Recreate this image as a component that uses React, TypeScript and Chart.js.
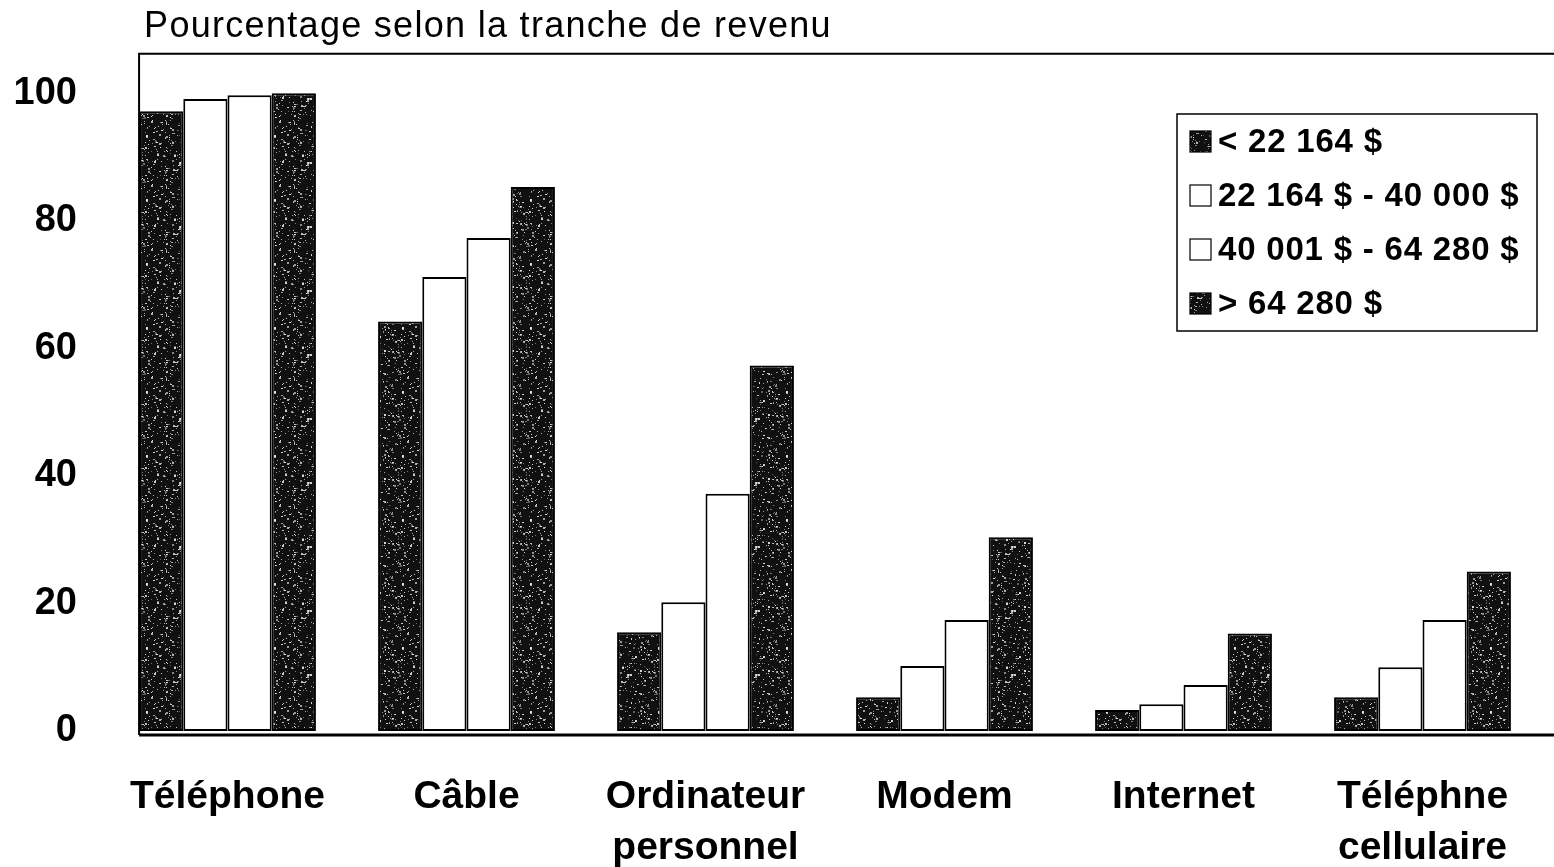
import React, { useEffect, useRef } from "react";
import { Chart, registerables } from "chart.js";

Chart.register(...registerables);

const FONT = '"Liberation Sans", Arial, Helvetica, sans-serif';

const titleText = "Pourcentage selon la tranche de revenu";
const categories: string[][] = [
  ["Téléphone"],
  ["Câble"],
  ["Ordinateur", "personnel"],
  ["Modem"],
  ["Internet"],
  ["Téléphne", "cellulaire"],
];
const seriesLabels = [
  "< 22 164 $",
  "22 164 $ - 40 000 $",
  "40 001 $ - 64 280 $",
  "> 64 280 $",
];
const lowIncome = [97.2, 64.2, 15.5, 5.3, 3.3, 5.3];
const lowerMiddle = [99.1, 71.2, 20.2, 10.2, 4.2, 10.0];
const upperMiddle = [99.7, 77.3, 37.2, 17.4, 7.2, 17.4];
const highIncome = [100, 85.3, 57.3, 30.4, 15.3, 25.0];
const yTicks = [0, 20, 40, 60, 80, 100];

function makeSpeckle(): CanvasPattern | string {
  const c = document.createElement("canvas");
  c.width = 64;
  c.height = 64;
  const g = c.getContext("2d");
  if (!g) return "#222";
  g.fillStyle = "#101010";
  g.fillRect(0, 0, 64, 64);
  let s = 987654;
  const next = () => {
    s = (s * 1103515245 + 12345) & 0x7fffffff;
    return s / 0x7fffffff;
  };
  for (let i = 0; i < 300; i++) {
    const x = Math.floor(next() * 64);
    const y = Math.floor(next() * 64);
    const a = 0.35 + next() * 0.6;
    g.fillStyle = `rgba(235,235,235,${a.toFixed(2)})`;
    const r = next();
    g.fillRect(x, y, r < 0.3 ? 2 : 1, r < 0.12 ? 2 : 1);
  }
  return g.createPattern(c, "repeat") ?? "#222";
}

export default function App() {
  const ref = useRef<HTMLCanvasElement | null>(null);

  useEffect(() => {
    if (!ref.current) return;
    const dark = makeSpeckle();

    const framePlugin = {
      id: "frame",
      afterDatasetsDraw(chart: any) {
        const ctx = chart.ctx as CanvasRenderingContext2D;
        const top = chart.chartArea.top;
        const bar = chart.getDatasetMeta(0).data[0] as any;
        const left = bar.x - bar.width / 2;
        const y0 = chart.scales.y.getPixelForValue(0);
        const right = chart.width;
        ctx.save();
        ctx.strokeStyle = "#000";
        ctx.lineWidth = 2;
        ctx.beginPath();
        ctx.moveTo(left, y0 + 4);
        ctx.lineTo(left, top);
        ctx.lineTo(right, top);
        ctx.stroke();
        ctx.lineWidth = 3;
        ctx.beginPath();
        ctx.moveTo(left, y0 + 4);
        ctx.lineTo(right, y0 + 4);
        ctx.stroke();
        // title
        ctx.fillStyle = "#000";
        ctx.font = `36px ${FONT}`;
        (ctx as any).letterSpacing = "1.3px";
        ctx.textAlign = "left";
        ctx.textBaseline = "alphabetic";
        ctx.fillText(titleText, left + 5, 37);
        ctx.restore();
      },
    };

    const legendPlugin = {
      id: "boxLegend",
      afterDraw(chart: any) {
        const ctx = chart.ctx as CanvasRenderingContext2D;
        const bx = 1177;
        const by = 114;
        const bw = 360;
        const bh = 217;
        ctx.save();
        ctx.fillStyle = "#fff";
        ctx.fillRect(bx, by, bw, bh);
        ctx.strokeStyle = "#000";
        ctx.lineWidth = 1.5;
        ctx.strokeRect(bx, by, bw, bh);
        ctx.font = `bold 33px ${FONT}`;
        (ctx as any).letterSpacing = "0.8px";
        ctx.textBaseline = "middle";
        ctx.textAlign = "left";
        chart.data.datasets.forEach((ds: any, i: number) => {
          const cy = by + 28 + i * 54;
          ctx.fillStyle = ds.backgroundColor;
          ctx.fillRect(bx + 13, cy - 11, 21, 21);
          ctx.lineWidth = 1.2;
          ctx.strokeStyle = "#000";
          ctx.strokeRect(bx + 13, cy - 11, 21, 21);
          ctx.fillStyle = "#000";
          ctx.fillText(ds.label, bx + 41, cy + 1);
        });
        ctx.restore();
      },
    };

    const chart = new Chart(ref.current, {
      type: "bar",
      data: {
        labels: categories,
        datasets: [
          { label: seriesLabels[0], data: lowIncome, backgroundColor: dark as any },
          { label: seriesLabels[1], data: lowerMiddle, backgroundColor: "#ffffff" },
          { label: seriesLabels[2], data: upperMiddle, backgroundColor: "#ffffff" },
          { label: seriesLabels[3], data: highIncome, backgroundColor: dark as any },
        ].map((d) => ({
          ...d,
          borderColor: "#000",
          borderWidth: 2,
          borderSkipped: false,
          categoryPercentage: 0.74,
          barPercentage: 1.0,
        })),
      },
      options: {
        animation: false,
        responsive: true,
        maintainAspectRatio: false,
        layout: { padding: { top: 48, right: 12, left: 0, bottom: 0 } },
        plugins: {
          legend: { display: false },
          title: { display: false },
          tooltip: { enabled: false },
        },
        scales: {
          x: {
            grid: { display: false, drawTicks: false },
            border: { display: false },
            afterFit: (scale: any) => {
              scale.height = 136;
            },
            ticks: {
              color: "#000",
              padding: 41,
              maxRotation: 0,
              autoSkip: false,
              font: { family: FONT, size: 39, weight: "bold", lineHeight: 1.3 },
            },
          },
          y: {
            min: 0,
            max: 106.2,
            grid: { display: false, drawTicks: false },
            border: { display: false },
            afterFit: (scale: any) => {
              scale.width = 108;
            },
            afterBuildTicks: (scale: any) => {
              scale.ticks = yTicks.map((v) => ({ value: v }));
            },
            ticks: {
              color: "#000",
              padding: 31,
              font: { family: FONT, size: 38, weight: "bold" },
            },
          },
        },
      },
      plugins: [framePlugin, legendPlugin],
    });

    return () => chart.destroy();
  }, []);

  return (
    <div
      style={{
        position: "fixed",
        left: 0,
        top: 0,
        width: "100vw",
        height: "100vh",
        background: "#fff",
      }}
    >
      <canvas ref={ref} />
    </div>
  );
}
